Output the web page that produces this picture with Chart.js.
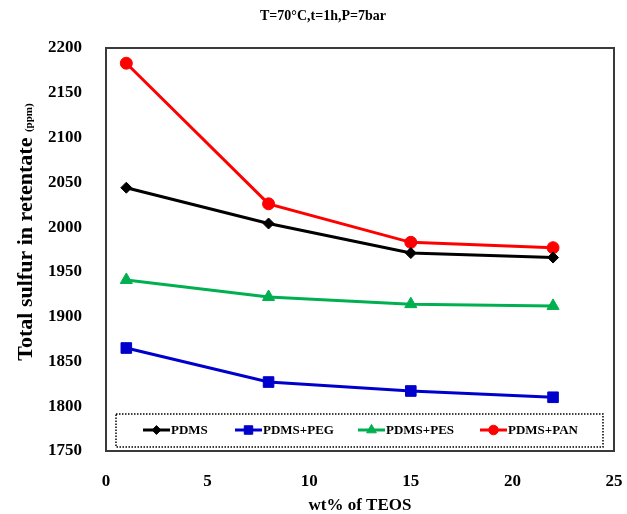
<!DOCTYPE html>
<html>
<head>
<meta charset="utf-8">
<title>Total sulfur in retentate</title>
<script src="https://cdn.jsdelivr.net/npm/chart.js@4/dist/chart.umd.min.js"></script>
<style>
  html, body { margin: 0; padding: 0; background: #fff; }
  canvas { display: block; }
</style>
</head>
<body>
<canvas id="sulfurChart" width="627" height="514"></canvas>
<script>
// values
const wtTeos = [1, 8, 15, 22];
const pdms = [2044, 2004, 1971, 1966];
const pdmsPeg = [1865, 1827, 1817, 1810];
const pdmsPes = [1941, 1922, 1914, 1912];
const pdmsPan = [2183, 2026, 1983, 1977];

const seriesLabels = ["PDMS", "PDMS+PEG", "PDMS+PES", "PDMS+PAN"];
const chartTitle = "T=70°C,t=1h,P=7bar";
const yTitle = "Total sulfur in retentate";
const yUnit = "(ppm)";
const xTitle = "wt% of TEOS";

const serif = "'Liberation Serif', 'DejaVu Serif', serif";

function toPoints(values) {
  return values.map((v, i) => ({ x: wtTeos[i], y: v }));
}

const styles = [
  { color: "#000000", point: "rectRot", radius: 5.5 },
  { color: "#0000CC", point: "rect", radius: 7.5 },
  { color: "#00B050", point: "triangle", radius: 7 },
  { color: "#FF0000", point: "circle", radius: 6 }
];

const datasets = [pdms, pdmsPeg, pdmsPes, pdmsPan].map((vals, i) => ({
  label: seriesLabels[i],
  data: toPoints(vals),
  borderColor: styles[i].color,
  backgroundColor: styles[i].color,
  borderWidth: 3,
  pointStyle: styles[i].point,
  pointRadius: styles[i].radius,
  pointHoverRadius: styles[i].radius,
  pointBorderWidth: 1,
  tension: 0,
  fill: false
}));

// frame, titles and the dotted legend inside the plot
const decorations = {
  id: "decorations",
  beforeDatasetsDraw(chart) {
    const { ctx, chartArea: a } = chart;
    ctx.save();
    ctx.strokeStyle = "#3a3a3a";
    ctx.lineWidth = 2;
    ctx.strokeRect(a.left, a.top, a.right - a.left, a.bottom - a.top);
    ctx.restore();
  },
  afterDraw(chart) {
    const { ctx } = chart;
    ctx.save();

    // chart title
    ctx.fillStyle = "#000";
    ctx.font = "bold 14px " + serif;
    ctx.textAlign = "center";
    ctx.textBaseline = "middle";
    ctx.fillText(chartTitle, 323, 16);

    // y axis title with small unit
    ctx.translate(32, 232);
    ctx.rotate(-Math.PI / 2);
    ctx.textBaseline = "alphabetic";
    ctx.textAlign = "left";
    const mainFont = "bold 22px " + serif;
    const unitFont = "bold 11px " + serif;
    ctx.font = mainFont;
    const w1 = ctx.measureText(yTitle + " ").width;
    ctx.font = unitFont;
    const w2 = ctx.measureText(yUnit).width;
    const start = -(w1 + w2) / 2;
    ctx.font = mainFont;
    ctx.fillText(yTitle + " ", start, 0);
    ctx.font = unitFont;
    ctx.fillText(yUnit, start + w1, 0);
    ctx.restore();

    // legend box
    ctx.save();
    ctx.strokeStyle = "#000";
    ctx.lineWidth = 1.5;
    ctx.setLineDash([1.5, 1.5]);
    ctx.strokeRect(116, 414, 487, 33);
    ctx.setLineDash([]);

    const itemX = [143, 235, 358, 480];
    const cy = 430;
    ctx.font = "bold 13px " + serif;
    ctx.textBaseline = "middle";
    ctx.textAlign = "left";
    chart.data.datasets.forEach((ds, i) => {
      const x0 = itemX[i];
      ctx.strokeStyle = ds.borderColor;
      ctx.fillStyle = ds.backgroundColor;
      ctx.lineWidth = 3;
      ctx.beginPath();
      ctx.moveTo(x0, cy);
      ctx.lineTo(x0 + 27, cy);
      ctx.stroke();
      if (Chart.helpers && Chart.helpers.drawPoint) {
        ctx.lineWidth = 1;
        Chart.helpers.drawPoint(ctx, {
          pointStyle: ds.pointStyle,
          radius: ds.pointRadius * 0.8,
          rotation: 0,
          borderWidth: 1
        }, x0 + 13.5, cy);
      }
      ctx.fillStyle = "#000";
      ctx.fillText(ds.label, x0 + 28, cy + 1);
    });
    ctx.restore();
  }
};

const ctx = document.getElementById("sulfurChart").getContext("2d");

new Chart(ctx, {
  type: "line",
  data: { datasets: datasets },
  plugins: [decorations],
  options: {
    responsive: false,
    animation: false,
    events: [],
    layout: { padding: { top: 48, right: 13, left: 0, bottom: 0 } },
    plugins: {
      legend: { display: false },
      title: { display: false },
      tooltip: { enabled: false }
    },
    scales: {
      x: {
        type: "linear",
        min: 0,
        max: 25,
        grid: { display: false, drawTicks: false },
        border: { display: false },
        ticks: {
          stepSize: 5,
          padding: 20,
          color: "#000",
          font: { family: serif, size: 17, weight: "bold" },
          callback: v => String(v)
        },
        title: {
          display: true,
          text: xTitle,
          color: "#000",
          padding: { top: 0, bottom: 0 },
          font: { family: serif, size: 17, weight: "bold", lineHeight: 1 }
        },
        afterFit(scale) {
          scale.height = 63;
          scale.paddingLeft = 0;
          scale.paddingRight = 0;
        }
      },
      y: {
        min: 1750,
        max: 2200,
        grid: { display: false, drawTicks: false },
        border: { display: false },
        ticks: {
          stepSize: 50,
          padding: 24,
          color: "#000",
          font: { family: serif, size: 17, weight: "bold" },
          callback: v => String(v)
        },
        afterFit(scale) {
          scale.width = 106;
          scale.paddingTop = 0;
          scale.paddingBottom = 0;
        }
      }
    }
  }
});
</script>
</body>
</html>
